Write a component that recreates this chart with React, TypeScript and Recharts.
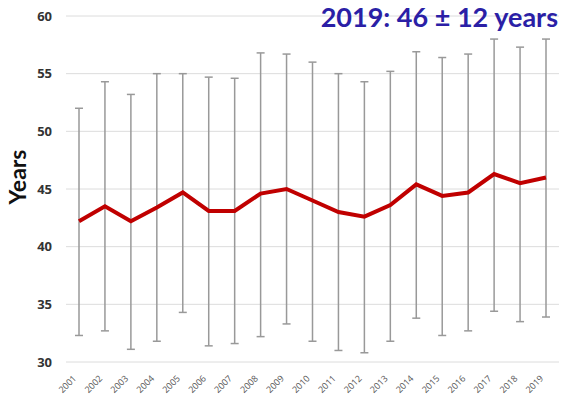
import React from 'react';
import { LineChart, Line, XAxis, YAxis, CartesianGrid, ErrorBar } from 'recharts';

const years = ['2001', '2002', '2003', '2004', '2005', '2006', '2007', '2008', '2009', '2010', '2011', '2012', '2013', '2014', '2015', '2016', '2017', '2018', '2019'];
const meanAge = [42.2, 43.5, 42.2, 43.4, 44.7, 43.1, 43.1, 44.6, 45.0, 44.0, 43.0, 42.6, 43.6, 45.4, 44.4, 44.7, 46.3, 45.5, 46.0];
const upperAge = [52.0, 54.3, 53.2, 55.0, 55.0, 54.7, 54.6, 56.8, 56.7, 56.0, 55.0, 54.3, 55.2, 56.9, 56.4, 56.7, 58.0, 57.3, 58.0];
const lowerAge = [32.3, 32.7, 31.1, 31.8, 34.3, 31.4, 31.6, 32.2, 33.3, 31.8, 31.0, 30.8, 31.8, 33.8, 32.3, 32.7, 34.4, 33.5, 33.9];
const yTicks = [30, 35, 40, 45, 50, 55, 60];

const data = years.map((year, i) => ({
  year,
  mean: meanAge[i],
  err: [meanAge[i] - lowerAge[i], upperAge[i] - meanAge[i]],
}));

function YearTick(props: any) {
  const { x, y, payload } = props;
  const ax = x - 2;
  const ay = y + 9;
  return (
    <text
      x={ax}
      y={ay}
      textAnchor="end"
      fontSize={9}
      fill="#555"
      fontFamily="'Open Sans', sans-serif"
      transform={`rotate(-45, ${ax}, ${ay})`}
    >
      {payload.value}
    </text>
  );
}

function YearsLabel(props: any) {
  const { viewBox } = props;
  const cx = 17;
  const cy = viewBox.y + viewBox.height / 2 - 12;
  return (
    <text
      x={cx}
      y={cy}
      textAnchor="middle"
      dominantBaseline="central"
      fontSize={23}
      fontWeight={700}
      fill="#111"
      fontFamily="Lato, sans-serif"
      transform={`rotate(-90, ${cx}, ${cy})`}
    >
      Years
    </text>
  );
}

export default function App() {
  return (
    <div style={{ position: 'absolute', left: 0, top: 0, width: 561, height: 400, background: '#fff' }}>
      <div
        style={{
          position: 'absolute',
          right: 3,
          top: 0,
          fontFamily: 'Lato, sans-serif',
          fontWeight: 700,
          fontSize: 27,
          color: '#2b1fa6',
          zIndex: 2,
        }}
      >
        2019: 46 ± 12 years
      </div>
      <LineChart width={561} height={400} data={data} margin={{ top: 16, right: 2, left: 0, bottom: 0 }}>
        <CartesianGrid vertical={false} stroke="#dcdcdc" />
        <XAxis
          dataKey="year"
          axisLine={false}
          tickLine={false}
          height={38}
          interval={0}
          padding={{ left: 13, right: 13 }}
          tick={<YearTick />}
        />
        <YAxis
          domain={[30, 60]}
          ticks={yTicks}
          width={66}
          axisLine={false}
          tickLine={false}
          tickMargin={8}
          tick={{ fontSize: 13, fontWeight: 700, fill: '#333', fontFamily: "'Open Sans', sans-serif" }}
          label={<YearsLabel />}
        />
        <Line dataKey="mean" stroke="none" dot={false} isAnimationActive={false}>
          <ErrorBar dataKey="err" width={4} stroke="#999" strokeWidth={1.5} direction="y" />
        </Line>
        <Line dataKey="mean" stroke="#c00000" strokeWidth={4} dot={false} type="linear" isAnimationActive={false} />
      </LineChart>
    </div>
  );
}
